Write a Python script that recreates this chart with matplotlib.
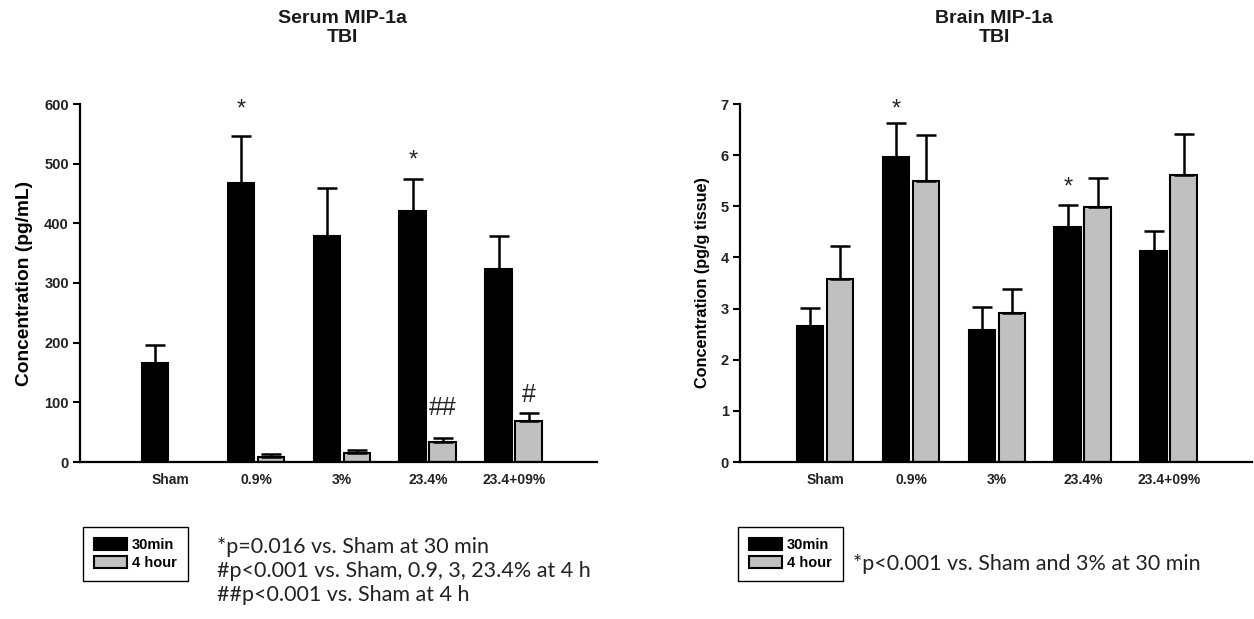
import numpy as np
import matplotlib
matplotlib.use('Agg')
from matplotlib import pyplot as plt

plt.rcParams['font.family'] = ['Liberation Sans', 'DejaVu Sans']

groups = ['Sham', '0.9%', '3%', '23.4%', '23.4+09%']

# serum MIP-1a (pg/mL); no 4 hour sham bar
serum_30 = [166, 467, 378, 420, 323]
serum_30_err = [30, 79, 81, 54, 55]
serum_4h = [np.nan, 8, 15, 34, 69]
serum_4h_err = [np.nan, 5, 5, 6, 13]

# brain MIP-1a (pg/g tissue)
brain_30 = [2.66, 5.97, 2.58, 4.60, 4.13]
brain_30_err = [0.35, 0.66, 0.45, 0.43, 0.39]
brain_4h = [3.58, 5.50, 2.92, 4.99, 5.62]
brain_4h_err = [0.65, 0.90, 0.47, 0.57, 0.80]

gray = '#c0c0c0'
x = np.arange(len(groups))
w = 0.31
off = 0.175

fig = plt.figure(figsize=(12.54, 6.19), dpi=100)
ax1 = fig.add_axes([80/1254, 1-462/619, 517/1254, 358/619])
ax2 = fig.add_axes([740/1254, 1-462/619, 512/1254, 358/619])

def draw(ax, v30, e30, v4, e4):
    ekw = dict(elinewidth=1.8, capthick=1.8, capsize=7, ecolor='black')
    b1 = ax.bar(x - off, v30, w, color='black', edgecolor='black', linewidth=1.5,
                yerr=[np.zeros(len(e30)), e30], error_kw=ekw, label='30min')
    b2 = ax.bar(x + off, v4, w, color=gray, edgecolor='black', linewidth=1.5,
                yerr=[np.zeros(len(e4)), e4], error_kw=ekw, label='4 hour')
    for s in ['top', 'right']:
        ax.spines[s].set_visible(False)
    ax.spines['left'].set_linewidth(1.6)
    ax.spines['bottom'].set_linewidth(1.6)
    ax.set_xticks(x)
    ax.set_xticklabels(groups, fontsize=10, fontweight='bold', color='#222222')
    ax.tick_params(axis='x', length=0, pad=8)
    ax.tick_params(axis='y', length=5, width=1.5, pad=3, labelsize=10.5)
    for t in ax.get_yticklabels():
        t.set_fontweight('bold')
        t.set_color('#222222')
    return b1, b2

b1, b2 = draw(ax1, serum_30, serum_30_err, serum_4h, serum_4h_err)
ax1.set_xlim(-1.048, 4.97)
ax1.set_ylim(0, 600)
ax1.set_yticks([0, 100, 200, 300, 400, 500, 600])
ax1.set_ylabel('Concentration (pg/mL)', fontsize=13.8, fontweight='bold')
ax1.yaxis.set_label_coords(-0.091, 0.5)
ax1.text(1 - off, 590, '*', fontsize=17, ha='center', va='center', color='#222222')
ax1.text(3 - off, 506, '*', fontsize=17, ha='center', va='center', color='#222222')
ax1.text(3 + off, 90, '##', fontsize=18, ha='center', va='center', color='#222222')
ax1.text(4 + off, 112, '#', fontsize=18, ha='center', va='center', color='#222222')

draw(ax2, brain_30, brain_30_err, brain_4h, brain_4h_err)
ax2.set_xlim(-0.99, 4.97)
ax2.set_ylim(0, 7)
ax2.set_yticks(range(8))
ax2.set_ylabel('Concentration (pg/g tissue)', fontsize=11.7, fontweight='bold')
ax2.yaxis.set_label_coords(-0.059, 0.5)
ax2.text(1 - off, 6.89, '*', fontsize=17, ha='center', va='center', color='#222222')
ax2.text(3 - off, 5.36, '*', fontsize=17, ha='center', va='center', color='#222222')

fig.text(342/1254, 1-28/619, 'Serum MIP-1a\nTBI', ha='center', va='center',
         fontsize=14, fontweight='bold', linespacing=1.08, color='#1a1a1a')
fig.text(994/1254, 1-28/619, 'Brain MIP-1a\nTBI', ha='center', va='center',
         fontsize=14, fontweight='bold', linespacing=1.08, color='#1a1a1a')

for lx in [83, 738]:
    leg = fig.legend([b1, b2], ['30min', '4 hour'], loc='upper left',
                     bbox_to_anchor=(lx/1254, 1-527/619), borderaxespad=0,
                     fancybox=False, edgecolor='black', framealpha=1,
                     prop=dict(size=10.5, weight='bold'), handlelength=2.3,
                     handleheight=0.85, labelspacing=0.3, handletextpad=0.3,
                     borderpad=0.75)
    leg.get_frame().set_linewidth(1.0)

note_font = ['Lato', 'DejaVu Sans']
fig.text(217/1254, 1-537/619,
         '*p=0.016 vs. Sham at 30 min\n#p<0.001 vs. Sham, 0.9, 3, 23.4% at 4 h\n##p<0.001 vs. Sham at 4 h',
         ha='left', va='top', fontsize=15.5, family=note_font, linespacing=1.25,
         color='#222222')
fig.text(853/1254, 1-564/619, '*p<0.001 vs. Sham and 3% at 30 min', ha='left',
         va='center', fontsize=15.5, family=note_font, color='#222222')

fig.savefig('out.png', dpi=100)
